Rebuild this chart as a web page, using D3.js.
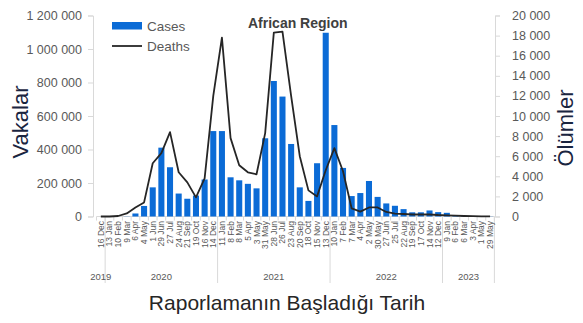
<!DOCTYPE html>
<html><head><meta charset="utf-8">
<script src="https://cdn.jsdelivr.net/npm/d3@7"></script>
<style>body{margin:0;background:#fff}svg{display:block;font-family:"Liberation Sans",Arial,sans-serif}</style>
</head><body><svg id="c" width="583" height="323"></svg>
<script>
const periods = ["16 Dec","13 Jan","10 Feb","9 Mar","6 Apr","4 May","1 Jun","29 Jun","27 Jul","24 Aug","21 Sep","19 Oct","16 Nov","14 Dec","11 Jan","8 Feb","8 Mar","5 Apr","3 May","31 May","28 Jun","26 Jul","23 Aug","20 Sep","18 Oct","15 Nov","13 Dec","10 Jan","7 Feb","7 Mar","4 Apr","2 May","30 May","27 Jun","25 Jul","22 Aug","19 Sep","17 Oct","14 Nov","12 Dec","9 Jan","6 Feb","6 Mar","3 Apr","1 May","29 May"];
const years = ["2019","2020","2021","2022","2023"];
const yearCounts = [1,13,13,13,6];
const cases = [0,0,0,1000,18000,63000,174000,411000,294000,137000,106000,125000,221000,510000,510000,234000,216000,195000,168000,467000,809000,716000,433000,174000,93000,318000,1097000,546000,290000,122000,140000,212000,117000,78000,64000,44000,25000,25000,36000,26000,22000,6000,4000,2000,1000,1000];
const deaths = [0,0,50,300,900,1400,5300,6300,8400,4400,3400,1900,3800,12000,17800,7800,5100,4400,4200,8300,18300,18400,12000,6000,2600,2000,4600,6800,4500,800,480,900,900,450,280,250,200,200,200,150,120,80,50,30,20,10];
const casesTicks = [0,200000,400000,600000,800000,1000000,1200000];
const deathsTicks = [0,2000,4000,6000,8000,10000,12000,14000,16000,18000,20000];

const svg = d3.select("#c");
const grey = "#595959", axisGrey = "#d9d9d9";
const fmt = d3.formatLocale({decimal:",",thousands:" ",grouping:[3],currency:["",""]}).format(",d");

const x = d3.scaleBand().domain(d3.range(periods.length)).range([96.5,494.4]).paddingInner(0.3).paddingOuter(0.15);
const yL = d3.scaleLinear().domain([0,1200000]).range([216.5,15.5]);
const yR = d3.scaleLinear().domain([0,20000]).range([216.5,15.5]);
const step = x.step(), x0 = 96.5;

// left axis
const gL = svg.append("g").attr("transform","translate(93,0)")
  .call(d3.axisLeft(yL).tickValues(casesTicks).tickFormat(fmt).tickSize(5).tickPadding(6));
gL.selectAll("path,line").attr("stroke",axisGrey);
gL.selectAll("text").attr("fill",grey).style("font-size","12.5px");

// right axis
const gR = svg.append("g").attr("transform","translate(495,0)")
  .call(d3.axisRight(yR).tickValues(deathsTicks).tickFormat(fmt).tickSize(5).tickPadding(12));
gR.selectAll("path,line").attr("stroke",axisGrey);
gR.selectAll("text").attr("fill",grey).style("font-size","12.5px");

// bottom baseline
svg.append("line").attr("x1",x0).attr("x2",x0+step*periods.length).attr("y1",216.5).attr("y2",216.5).attr("stroke",axisGrey);
// minor ticks
svg.append("g").selectAll("line").data(d3.range(periods.length+1)).join("line")
  .attr("x1",i=>x0+i*step).attr("x2",i=>x0+i*step).attr("y1",216.5).attr("y2",220.5).attr("stroke",axisGrey);
// year separators
const bounds = [0]; yearCounts.forEach(c=>bounds.push(bounds[bounds.length-1]+c));
svg.append("g").selectAll("line").data(bounds.slice(1)).join("line")
  .attr("x1",b=>x0+b*step).attr("x2",b=>x0+b*step).attr("y1",216.5).attr("y2",283).attr("stroke",axisGrey);
svg.append("g").selectAll("text").data(years).join("text")
  .attr("x",(d,i)=>x0+(bounds[i]+bounds[i+1])/2*step).attr("y",280)
  .attr("text-anchor","middle").attr("fill",grey).style("font-size","9.5px").text(d=>d);

// period labels
svg.append("g").selectAll("text").data(periods).join("text")
  .attr("transform",(d,i)=>`translate(${x(i)+x.bandwidth()/2},221) rotate(-90)`)
  .attr("text-anchor","end").attr("dy","0.35em").attr("fill",grey).style("font-size","8.5px").text(d=>d);

// bars
svg.append("g").selectAll("rect").data(cases).join("rect")
  .attr("x",(d,i)=>x(i)).attr("width",x.bandwidth())
  .attr("y",d=>yL(d)).attr("height",d=>yL(0)-yL(d)).attr("fill","#0b6bd6");

// deaths line
svg.append("path").datum(deaths)
  .attr("d",d3.line().x((d,i)=>x(i)+x.bandwidth()/2).y(d=>yR(d)))
  .attr("fill","none").attr("stroke","#262626").attr("stroke-width",1.8).attr("stroke-linejoin","round");

// legend
svg.append("rect").attr("x",112).attr("y",22).attr("width",30).attr("height",7.5).attr("fill","#0b6bd6");
svg.append("text").attr("x",147).attr("y",26).attr("dy","0.35em").attr("fill",grey).style("font-size","13.5px").text("Cases");
svg.append("line").attr("x1",112).attr("x2",142).attr("y1",46).attr("y2",46).attr("stroke","#262626").attr("stroke-width",1.8);
svg.append("text").attr("x",147).attr("y",46.5).attr("dy","0.35em").attr("fill",grey).style("font-size","13.5px").text("Deaths");

// title
svg.append("text").attr("x",248).attr("y",28).attr("fill","#404040").style("font-size","14px").style("font-weight","bold").text("African Region");

// axis titles
svg.append("text").attr("transform","translate(20,122) rotate(-90)").attr("text-anchor","middle").attr("dy","0.35em")
  .attr("fill","#1a2540").style("font-size","22px").text("Vakalar");
svg.append("text").attr("transform","translate(565,128) rotate(-90)").attr("text-anchor","middle").attr("dy","0.35em")
  .attr("fill","#1a2540").style("font-size","22px").text("Ölümler");
svg.append("text").attr("x",287).attr("y",303).attr("text-anchor","middle").attr("dy","0.35em")
  .attr("fill","#262626").style("font-size","21px").text("Raporlamanın Başladığı Tarih");
</script></body></html>
